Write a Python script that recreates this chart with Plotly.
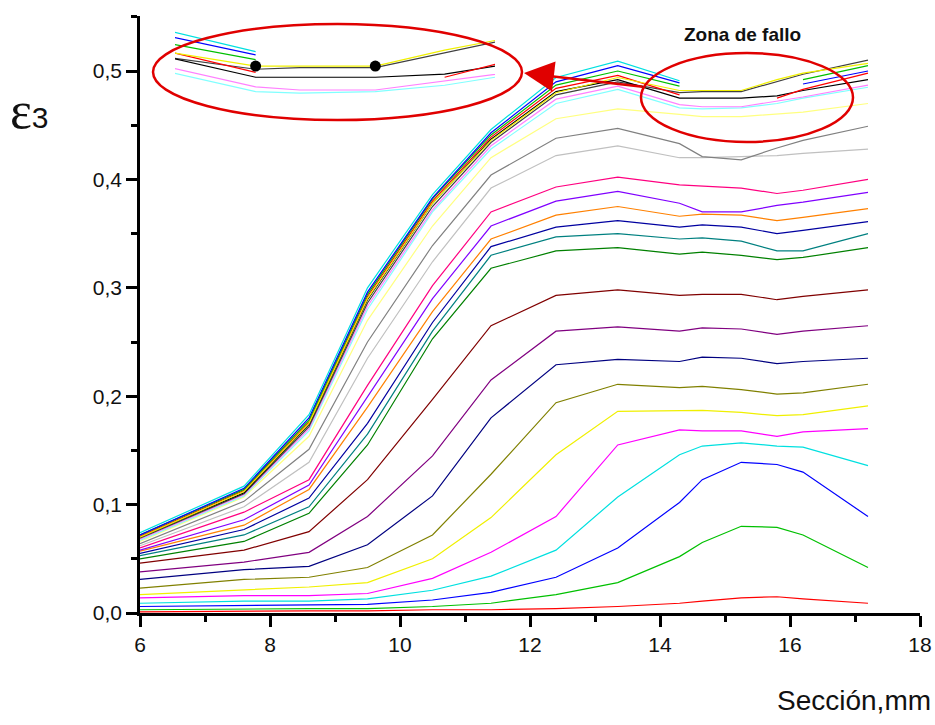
import plotly.graph_objects as go

# ---------------- data ----------------
X = [6.0, 7.6, 8.6, 9.5, 10.5, 11.4, 12.4, 13.35, 14.3, 14.65, 15.25, 15.8, 16.2, 17.2]

s01 = [0.001, 0.002, 0.002, 0.002, 0.003, 0.003, 0.004, 0.006, 0.009, 0.011, 0.014, 0.015, 0.013, 0.009]
s02 = [0.003, 0.004, 0.004, 0.004, 0.006, 0.009, 0.017, 0.028, 0.052, 0.065, 0.080, 0.079, 0.072, 0.042]
s03 = [0.006, 0.007, 0.007, 0.008, 0.012, 0.019, 0.033, 0.060, 0.102, 0.123, 0.139, 0.137, 0.130, 0.089]
s04 = [0.009, 0.011, 0.011, 0.013, 0.021, 0.034, 0.058, 0.107, 0.146, 0.154, 0.157, 0.154, 0.153, 0.136]
s05 = [0.014, 0.016, 0.016, 0.018, 0.032, 0.056, 0.089, 0.155, 0.169, 0.168, 0.168, 0.163, 0.167, 0.170]
s06 = [0.017, 0.021, 0.024, 0.028, 0.050, 0.088, 0.146, 0.186, 0.187, 0.187, 0.185, 0.182, 0.183, 0.191]
s07 = [0.023, 0.031, 0.033, 0.042, 0.072, 0.128, 0.194, 0.211, 0.208, 0.209, 0.206, 0.202, 0.203, 0.211]
s08 = [0.031, 0.040, 0.043, 0.063, 0.108, 0.180, 0.229, 0.234, 0.232, 0.236, 0.235, 0.230, 0.232, 0.235]
s09 = [0.038, 0.047, 0.056, 0.089, 0.145, 0.215, 0.260, 0.264, 0.260, 0.263, 0.262, 0.257, 0.260, 0.265]
s10 = [0.046, 0.058, 0.075, 0.123, 0.197, 0.265, 0.293, 0.298, 0.293, 0.294, 0.294, 0.289, 0.292, 0.298]
s11 = [0.050, 0.066, 0.092, 0.155, 0.253, 0.318, 0.334, 0.337, 0.331, 0.333, 0.330, 0.326, 0.328, 0.337]
s12 = [0.053, 0.072, 0.098, 0.165, 0.260, 0.330, 0.347, 0.350, 0.345, 0.346, 0.343, 0.334, 0.334, 0.350]
s13 = [0.055, 0.077, 0.106, 0.175, 0.268, 0.338, 0.356, 0.362, 0.356, 0.358, 0.356, 0.350, 0.353, 0.361]
s14 = [0.057, 0.081, 0.114, 0.190, 0.278, 0.345, 0.367, 0.375, 0.366, 0.368, 0.367, 0.362, 0.365, 0.373]
s15 = [0.058, 0.086, 0.118, 0.200, 0.290, 0.357, 0.380, 0.389, 0.378, 0.370, 0.370, 0.376, 0.379, 0.388]
s16 = [0.060, 0.093, 0.123, 0.210, 0.302, 0.370, 0.393, 0.402, 0.395, 0.394, 0.392, 0.387, 0.390, 0.400]
s17 = [0.062, 0.098, 0.139, 0.235, 0.324, 0.392, 0.422, 0.431, 0.420, 0.420, 0.421, 0.422, 0.424, 0.428]
s18 = [0.064, 0.103, 0.151, 0.250, 0.339, 0.404, 0.438, 0.447, 0.433, 0.421, 0.418, 0.429, 0.436, 0.449]
s19 = [0.066, 0.107, 0.163, 0.270, 0.357, 0.420, 0.456, 0.465, 0.460, 0.458, 0.458, 0.460, 0.462, 0.470]
s20 = [0.067, 0.108, 0.168, 0.280, 0.370, 0.428, 0.470, 0.483, 0.466, 0.465, 0.466, 0.470, 0.475, 0.485]
s21 = [0.068, 0.109, 0.170, 0.283, 0.372, 0.431, 0.474, 0.486, 0.469, 0.467, 0.467, 0.472, 0.476, 0.487]
s22 = [0.069, 0.110, 0.172, 0.286, 0.375, 0.434, 0.478, 0.490, 0.480, 0.481, 0.481, 0.490, 0.497, 0.510]
s23 = [0.070, 0.111, 0.174, 0.289, 0.378, 0.437, 0.481, 0.492, 0.475, 0.475, 0.475, 0.477, 0.482, 0.492]
s24 = [0.071, 0.113, 0.176, 0.292, 0.380, 0.439, 0.484, 0.496, 0.478, None, None, 0.475, 0.483, 0.498]
s25 = [0.072, 0.114, 0.178, 0.294, 0.382, 0.441, 0.487, 0.500, 0.486, None, None, None, 0.492, 0.505]
s26 = [0.072, 0.115, 0.180, 0.296, 0.383, 0.443, 0.490, 0.505, 0.489, None, None, None, 0.488, 0.500]
s27 = [0.074, 0.117, 0.183, 0.300, 0.386, 0.446, 0.494, 0.509, 0.491, None, None, None, None, None]
s28 = [0.070, 0.112, 0.175, 0.290, 0.378, 0.436, 0.480, 0.494, 0.482, 0.482, 0.482, 0.492, 0.498, 0.507]

series = [s01, s02, s03, s04, s05, s06, s07, s08, s09, s10, s11, s12, s13, s14,
          s15, s16, s17, s18, s19, s20, s21, s22, s23, s24, s25, s26, s27, s28]
zoom_series = [s20, s21, s22, s23, s24, s25, s26, s27, s28]

y_ticks = [0.0, 0.1, 0.2, 0.3, 0.4, 0.5]
x_ticks = [6, 8, 10, 12, 14, 16, 18]

# ---------------- styles ----------------
colors = ["#FF0000", "#00C000", "#0000FF", "#00E0E0", "#FF00FF", "#F0F000",
          "#808000", "#000080", "#800080", "#800000", "#008000", "#008080",
          "#0000A0", "#FF8000", "#8000FF", "#FF0080", "#C0C0C0", "#808080",
          "#FFFF80", "#80FFFF", "#FF80FF", "#404040", "#000000", "#FF0000",
          "#00C000", "#0000FF", "#00E0E0", "#F0F000"]
zoom_colors = colors[19:]

FONT = "Liberation Sans, Arial, sans-serif"

fig = go.Figure()
for vals, col in zip(series, colors):
    fig.add_trace(go.Scatter(x=X, y=vals, mode="lines",
                             line=dict(color=col, width=1.2),
                             showlegend=False, hoverinfo="skip"))

# magnified inset of the failure zone
for vals, col in zip(zoom_series, zoom_colors):
    fig.add_trace(go.Scatter(x=X, y=vals, mode="lines",
                             line=dict(color=col, width=1.2),
                             xaxis="x2", yaxis="y2",
                             showlegend=False, hoverinfo="skip"))
fig.add_trace(go.Scatter(x=[X[8], X[10]], y=[s28[8], s28[10]], mode="markers",
                         marker=dict(color="black", size=11),
                         xaxis="x2", yaxis="y2",
                         showlegend=False, hoverinfo="skip"))

# plot-area pixel geometry: x 140..920, y 16..613
L, R, T, B = 140, 920, 16, 613
W, H = R - L, B - T


def px(xp):
    return (xp - L) / W


def py(yp):
    return (B - yp) / H


fig.update_layout(
    width=935, height=725,
    margin=dict(l=L, r=935 - R, t=T, b=725 - B, autoexpand=False),
    paper_bgcolor="white", plot_bgcolor="white",
    separators=",.",
    font=dict(family=FONT, size=20, color="#111"),
    xaxis=dict(range=[6, 18], tickvals=x_ticks, showgrid=False, zeroline=False,
               automargin=False,
               showline=True, linecolor="black", linewidth=2.5,
               ticks="outside", ticklen=11, tickwidth=2.5, tickcolor="black",
               minor=dict(ticks="outside", ticklen=6, tickwidth=2.5,
                          tickcolor="black", dtick=1),
               tickfont=dict(size=21, family=FONT, color="#111")),
    yaxis=dict(range=[0, (B - T) / 1084], tickvals=y_ticks, tickformat=".1f",
               showgrid=False, zeroline=False, automargin=False,
               showline=True, linecolor="black", linewidth=2.5,
               ticks="outside", ticklen=11, tickwidth=2.5, tickcolor="black",
               minor=dict(ticks="outside", ticklen=6, tickwidth=2.5,
                          tickcolor="black", dtick=0.05),
               tickfont=dict(size=21, family=FONT, color="#111")),
    xaxis2=dict(domain=[px(175), px(495)], range=[13.66, 16.2], visible=False,
                anchor="y2"),
    yaxis2=dict(domain=[py(118), py(28)], range=[0.4495, 0.5058], visible=False,
                anchor="x2"),
)

fig.add_shape(type="circle", xref="paper", yref="paper",
              x0=px(153), x1=px(522), y0=py(120), y1=py(24),
              line=dict(color="#E00000", width=2.5))
fig.add_shape(type="circle", xref="paper", yref="paper",
              x0=px(641), x1=px(853), y0=py(142), y1=py(53),
              line=dict(color="#E00000", width=2.5))

fig.add_annotation(x=px(524), y=py(73), xref="paper", yref="paper",
                   ax=120, ay=14, text="", showarrow=True,
                   arrowhead=2, arrowsize=2.4, arrowwidth=2.5,
                   arrowcolor="#E00000", standoff=0)

fig.add_annotation(x=px(742), y=py(35), xref="paper", yref="paper",
                   xanchor="center", yanchor="middle",
                   text="<b>Zona de fallo</b>", showarrow=False,
                   font=dict(size=19, family=FONT, color="#111"))

fig.add_annotation(x=px(8), y=py(110), xref="paper", yref="paper",
                   xanchor="left", yanchor="middle",
                   text="ε<span style='font-size:30px;font-family:Liberation Sans'>3</span>",
                   showarrow=False,
                   font=dict(size=52, family="Liberation Serif, serif", color="#111"))

fig.add_annotation(x=px(933), y=py(700), xref="paper", yref="paper",
                   xanchor="right", yanchor="middle",
                   text="Sección,mm", showarrow=False,
                   font=dict(size=28, family=FONT, color="#111"))

fig.write_html("out.html")
